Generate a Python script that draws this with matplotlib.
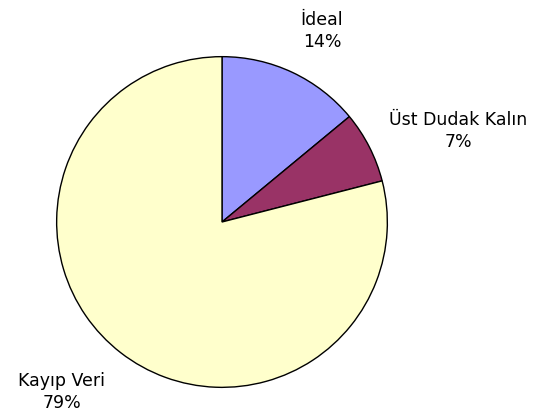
import matplotlib.pyplot as plt

labels = ['İdeal', 'Üst Dudak Kalın', 'Kayıp Veri']
values = [14, 7, 79]
colors = ['#9999FF', '#993366', '#FFFFCC']

W, H = 539, 419
fig = plt.figure(figsize=(W / 100, H / 100), dpi=100)

# pie centre and radius in pixels (from the top-left)
cx, cy, r = 222, 222, 167
ax = fig.add_axes([(cx - r) / W, (H - cy - r) / H, 2 * r / W, 2 * r / H])
ax.pie(values, colors=colors, startangle=90, counterclock=False, radius=1,
       wedgeprops=dict(edgecolor='black', linewidth=1))
ax.set_xlim(-1.01, 1.01)
ax.set_ylim(-1.01, 1.01)
ax.set_aspect('equal')
ax.axis('off')

# label positions in pixels
label_pos = [(322, 31), (458, 131), (62, 392)]
for lab, v, (x, y) in zip(labels, values, label_pos):
    fig.text(x / W, 1 - y / H, f'{lab}\n{v}%', ha='center', va='center',
             fontsize=12.5, family='DejaVu Sans', linespacing=1.35)

fig.savefig('out.png', dpi=100)
